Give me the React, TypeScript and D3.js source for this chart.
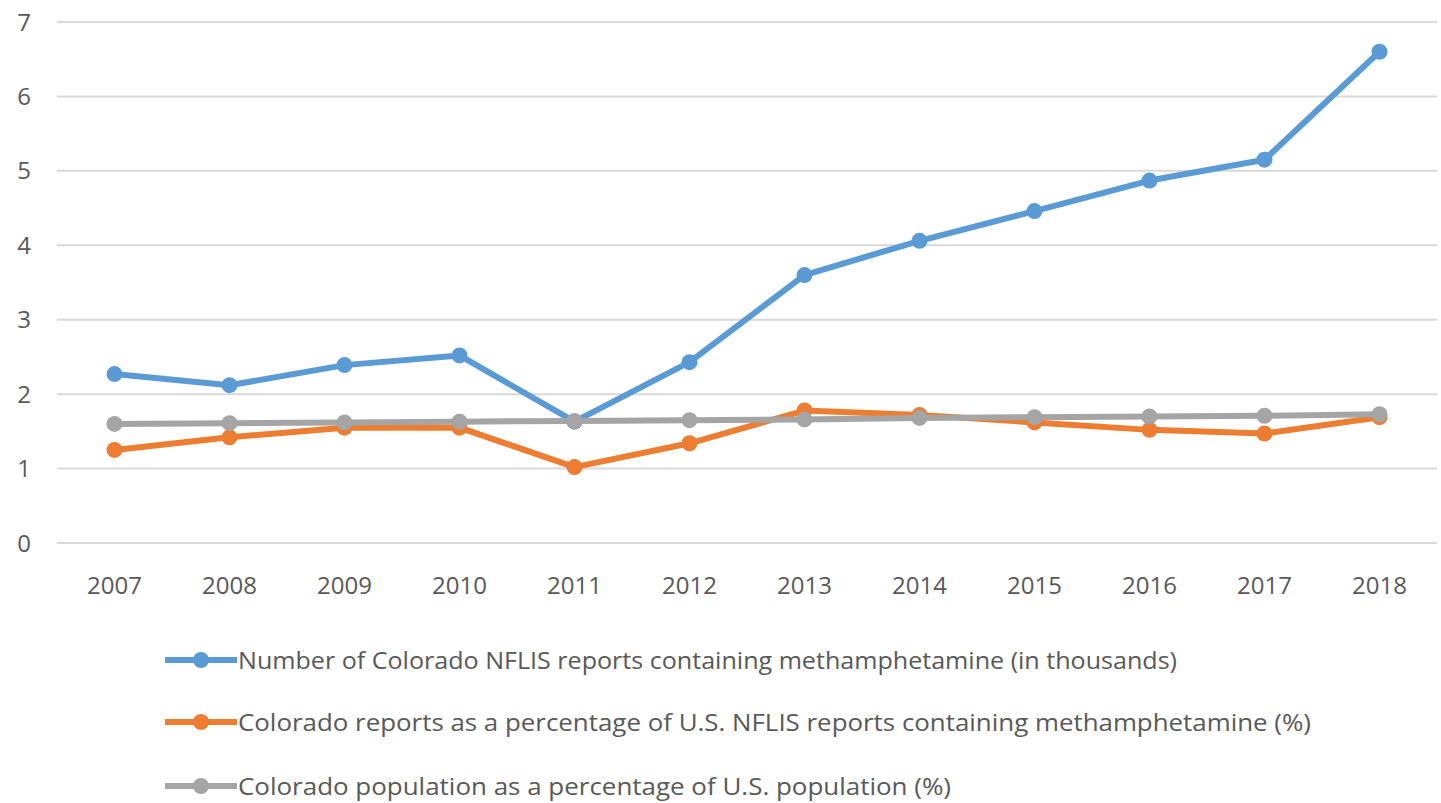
import * as d3 from 'd3';
import { useEffect, useRef } from 'react';

const years = ['2007', '2008', '2009', '2010', '2011', '2012', '2013', '2014', '2015', '2016', '2017', '2018'];
const reportsThousands = [2.27, 2.12, 2.39, 2.52, 1.63, 2.43, 3.6, 4.06, 4.46, 4.87, 5.15, 6.6];
const reportsPctUS = [1.25, 1.42, 1.55, 1.55, 1.02, 1.34, 1.78, 1.72, 1.62, 1.52, 1.47, 1.69];
const populationPctUS = [1.6, 1.61, 1.62, 1.63, 1.64, 1.65, 1.66, 1.68, 1.69, 1.7, 1.71, 1.73];
const yTicks = [0, 1, 2, 3, 4, 5, 6, 7];

const seriesNames = [
  'Number of Colorado NFLIS reports containing methamphetamine (in thousands)',
  'Colorado reports as a percentage of U.S. NFLIS reports containing methamphetamine (%)',
  'Colorado population as a percentage of U.S. population (%)',
];
const seriesColors = ['#5B9BD5', '#ED7D31', '#A5A5A5'];
const legendWidths = [939, 1073, 713];

const App = () => {
  const svgRef = useRef<SVGSVGElement | null>(null);

  useEffect(() => {
    if (!svgRef.current) return;
    const svg = d3.select(svgRef.current);
    svg.selectAll('*').remove();

    const font = '"Open Sans", sans-serif';
    const textColor = '#595959';
    const plot = { left: 57, right: 1437, top: 22, bottom: 543 };

    const x = d3.scaleBand<string>().domain(years).range([plot.left, plot.right]);
    const y = d3.scaleLinear().domain([0, 7]).range([plot.bottom, plot.top]);
    const cx = (d: string) => (x(d) as number) + x.bandwidth() / 2;

    // gridlines
    svg
      .append('g')
      .selectAll('line')
      .data(yTicks)
      .enter()
      .append('line')
      .attr('x1', plot.left)
      .attr('x2', plot.right)
      .attr('y1', (d) => y(d))
      .attr('y2', (d) => y(d))
      .attr('stroke', '#D9D9D9')
      .attr('stroke-width', 2);

    // y labels
    svg
      .append('g')
      .selectAll('text')
      .data(yTicks)
      .enter()
      .append('text')
      .attr('x', 31)
      .attr('y', (d) => y(d))
      .attr('dy', '0.36em')
      .attr('text-anchor', 'end')
      .attr('font-family', font)
      .attr('font-size', 24)
      .attr('fill', textColor)
      .text((d) => d);

    // x labels
    svg
      .append('g')
      .selectAll('text')
      .data(years)
      .enter()
      .append('text')
      .attr('x', (d) => cx(d))
      .attr('y', 585)
      .attr('dy', '0.36em')
      .attr('text-anchor', 'middle')
      .attr('font-family', font)
      .attr('font-size', 24)
      .attr('fill', textColor)
      .text((d) => d);

    const allSeries = [reportsThousands, reportsPctUS, populationPctUS];

    allSeries.forEach((values, i) => {
      const pts = years.map((yr, j) => ({ yr, v: values[j] }));
      const line = d3
        .line<{ yr: string; v: number }>()
        .x((d) => cx(d.yr))
        .y((d) => y(d.v));
      const g = svg.append('g');
      g.append('path')
        .datum(pts)
        .attr('d', line)
        .attr('fill', 'none')
        .attr('stroke', seriesColors[i])
        .attr('stroke-width', 6)
        .attr('stroke-linejoin', 'round');
      g.selectAll('circle')
        .data(pts)
        .enter()
        .append('circle')
        .attr('cx', (d) => cx(d.yr))
        .attr('cy', (d) => y(d.v))
        .attr('r', 8)
        .attr('fill', seriesColors[i]);
    });

    // legend
    const legendY = [660, 722, 786];
    seriesNames.forEach((name, i) => {
      const g = svg.append('g').attr('transform', `translate(0,${legendY[i]})`);
      g.append('line')
        .attr('x1', 165)
        .attr('x2', 237)
        .attr('stroke', seriesColors[i])
        .attr('stroke-width', 6);
      g.append('circle').attr('cx', 201).attr('r', 8).attr('fill', seriesColors[i]);
      g.append('text')
        .attr('x', 238)
        .attr('dy', '0.36em')
        .attr('font-family', font)
        .attr('font-size', 24)
        .attr('fill', textColor)
        .attr('textLength', legendWidths[i])
        .attr('lengthAdjust', 'spacingAndGlyphs')
        .text(name);
    });
  }, []);

  return (
    <svg
      ref={svgRef}
      width={1441}
      height={803}
      style={{ position: 'absolute', left: 0, top: 0, background: '#fff' }}
    ></svg>
  );
};

export default App;
